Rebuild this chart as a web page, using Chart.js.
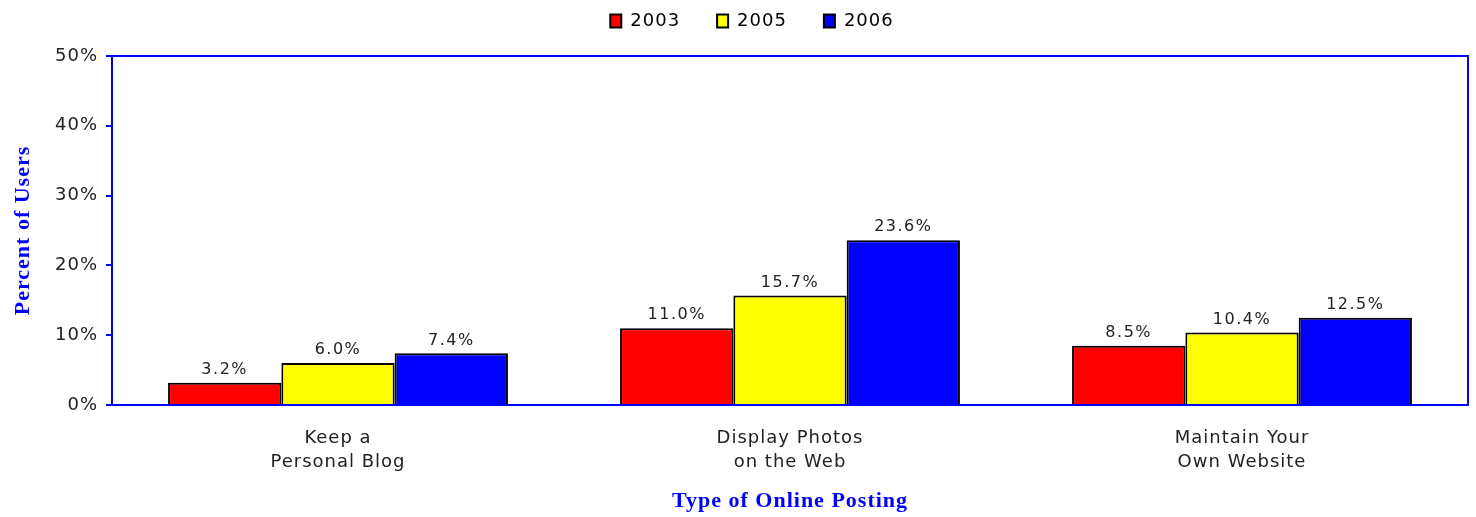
<!DOCTYPE html>
<html>
<head>
<meta charset="utf-8">
<script src="https://cdn.jsdelivr.net/npm/chart.js@4.4.0/dist/chart.umd.min.js"></script>
<style>
  html, body { margin: 0; padding: 0; background: #fff; }
  #wrap { width: 1476px; height: 517px; }
</style>
</head>
<body>
<div id="wrap"><canvas id="myChart" width="1476" height="517"></canvas></div>
<script>
// data
const categories = [["Keep a", "Personal Blog"], ["Display Photos", "on the Web"], ["Maintain Your", "Own Website"]];
const years = ["2003", "2005", "2006"];
const values2003 = [3.2, 11.0, 8.5];
const values2005 = [6.0, 15.7, 10.4];
const values2006 = [7.4, 23.6, 12.5];
const yTicks = [0, 10, 20, 30, 40, 50];

const blue = '#0000ff';
const TOP_PAD = -27;

// the reference text is a bit wider than DejaVu, so space the letters out
const spacing = {
    id: 'spacing',
    beforeUpdate(chart) { chart.ctx.letterSpacing = '1px'; },
    beforeDraw(chart) { chart.ctx.letterSpacing = '1px'; },
    beforeLayout(chart) {
        const lg = chart.legend;
        if (lg && !lg._patched) {
            const fit = lg.fit, draw = lg.draw;
            lg.fit = function () { fit.call(this); this.height = 56 - TOP_PAD; };
            // legend sits a little right of the canvas centre
            lg.draw = function () {
                const c = this.ctx;
                c.save();
                c.translate(18, 2);
                draw.apply(this, arguments);
                c.restore();
            };
            lg._patched = true;
        }
    }
};

// blue box round the plot area
const boxPlugin = {
    id: 'box',
    afterDraw(chart) {
        const a = chart.chartArea, ctx = chart.ctx;
        ctx.save();
        ctx.strokeStyle = blue;
        ctx.lineWidth = 2;
        ctx.strokeRect(a.left, a.top, a.right - a.left, a.bottom - a.top);
        ctx.restore();
    }
};

// value labels over the bars
const valueLabels = {
    id: 'valueLabels',
    afterDatasetsDraw(chart) {
        const ctx = chart.ctx;
        ctx.save();
        ctx.font = '16px "DejaVu Sans"';
        ctx.letterSpacing = '1.5px';
        ctx.fillStyle = '#222';
        ctx.textAlign = 'center';
        ctx.textBaseline = 'bottom';
        chart.data.datasets.forEach((ds, i) => {
            chart.getDatasetMeta(i).data.forEach((bar, j) => {
                ctx.fillText(ds.data[j].toFixed(1) + '%', bar.x, bar.y - 5);
            });
        });
        ctx.restore();
    }
};

let ctx = document.getElementById('myChart').getContext('2d');
let myChart = new Chart(ctx, {
    type: 'bar',
    data: {
        labels: categories,
        datasets: [
            { label: years[0], data: values2003, backgroundColor: '#ff0000' },
            { label: years[1], data: values2005, backgroundColor: '#ffff00' },
            { label: years[2], data: values2006, backgroundColor: '#0000ff' }
        ].map(d => Object.assign(d, { borderColor: '#000', borderWidth: 2, borderSkipped: 'bottom' }))
    },
    options: {
        responsive: false,
        animation: false,
        layout: { padding: { top: TOP_PAD, right: 8, bottom: 2, left: 0 } },
        datasets: { bar: { categoryPercentage: 0.752, barPercentage: 1.0 } },
        plugins: {
            legend: {
                position: 'top',
                labels: {
                    font: { family: 'DejaVu Sans', size: 18 },
                    color: '#222',
                    boxWidth: 11,
                    boxHeight: 13,
                    padding: 37,
                    generateLabels(chart) {
                        return chart.data.datasets.map((d, i) => ({
                            text: d.label,
                            fillStyle: d.backgroundColor,
                            strokeStyle: '#000',
                            lineWidth: 2,
                            datasetIndex: i
                        }));
                    }
                }
            },
            tooltip: { enabled: false }
        },
        scales: {
            y: {
                min: 0,
                max: 50,
                afterBuildTicks(scale) { scale.ticks = yTicks.map(v => ({ value: v })); },
                afterFit(scale) { scale.width = 112; },
                ticks: {
                    callback: v => v + '%',
                    font: { family: 'DejaVu Sans', size: 18 },
                    color: '#222',
                    padding: 8
                },
                grid: { drawOnChartArea: false, drawTicks: true, tickLength: 6, color: blue, lineWidth: 2 },
                border: { color: blue, width: 2 },
                title: {
                    display: true,
                    text: 'Percent of Users',
                    color: blue,
                    font: { family: 'Liberation Serif', size: 22, weight: 'bold' },
                    padding: { top: 10, bottom: 4 }
                }
            },
            x: {
                afterFit(scale) { scale.height = 110; },
                ticks: {
                    font: { family: 'DejaVu Sans', size: 18, lineHeight: 1.35 },
                    color: '#222',
                    padding: 13
                },
                grid: { display: false },
                border: { color: blue, width: 2 },
                title: {
                    display: true,
                    text: 'Type of Online Posting',
                    color: blue,
                    font: { family: 'Liberation Serif', size: 22, weight: 'bold' },
                    padding: { top: 14, bottom: 0 }
                }
            }
        }
    },
    plugins: [spacing, boxPlugin, valueLabels]
});
</script>
</body>
</html>
